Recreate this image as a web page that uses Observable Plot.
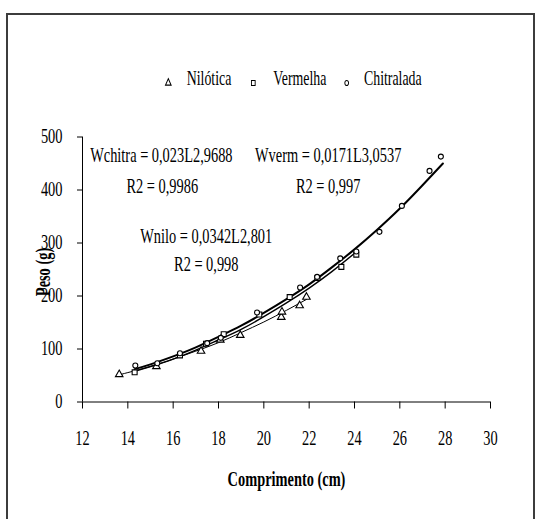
<!DOCTYPE html>
<html><head><meta charset="utf-8">
<script src="https://cdn.jsdelivr.net/npm/d3@7"></script>
<script src="https://cdn.jsdelivr.net/npm/@observablehq/plot@0.6"></script>
<style>
body{margin:0;background:#fff;}
#frame{position:absolute;left:6px;top:13px;width:525px;height:520px;border:2px solid #3c3c3c;border-bottom:none;}
#chart{position:absolute;left:0;top:0;}
#legend{position:absolute;left:0;top:0;}
svg text{font-family:"Liberation Serif","Times New Roman",serif !important;}
</style></head><body>
<div id="frame"></div>
<div id="chart"></div>
<svg id="legend" width="535" height="100"></svg>
<script>
// Observed points
const nilX = [13.62, 15.26, 17.23, 18.08, 18.96, 20.77, 20.8, 21.58, 21.88];
const nilY = [52, 67, 96, 117, 126, 160, 170, 182, 198];
const verX = [14.3, 16.3, 17.45, 18.23, 19.8, 21.14, 22.37, 23.42, 24.08];
const verY = [56, 88, 110, 128, 165, 198, 234, 255, 278];
const chiX = [14.33, 15.3, 16.3, 17.5, 18.1, 19.7, 21.6, 22.35, 23.37, 24.08, 25.1, 26.09, 27.31, 27.81];
const chiY = [69, 73, 92, 111, 121, 169, 216, 236, 271, 284, 321, 370, 436, 463];
// Trend curves
const nilLX = [13.6, 14, 15, 16, 17, 18, 19, 20, 21, 21.9];
const nilLY = [51, 55.5, 67, 81, 96, 112, 131, 151, 173, 194];
const verLX = [14.3, 15, 16, 17, 18, 19, 20, 21, 22, 23, 24.1];
const verLY = [58, 67, 81, 98, 117, 137, 161, 187, 215, 246, 284];
const chiLX = [14.3, 15, 16, 17, 18, 19, 20, 21, 22, 23, 24, 25, 26, 27, 27.9];
const chiLY = [62, 71, 86, 103, 123, 144, 168, 194, 222, 254, 288, 325, 365, 409, 450];
// Ticks & labels
const xTicks = [12, 14, 16, 18, 20, 22, 24, 26, 28, 30];
const yTicks = [0, 100, 200, 300, 400, 500];
const eqText = ["Wchitra = 0,023L2,9688", "R2 = 0,9986", "Wverm = 0,0171L3,0537", "R2 = 0,997", "Wnilo = 0,0342L2,801", "R2 = 0,998"];
const eqX = [15.48, 15.52, 22.84, 22.84, 17.46, 17.46];
const eqY = [464.5, 406, 464.5, 406, 311.7, 260];
const legendLabels = ["Nilótica", "Vermelha", "Chitralada"];
const legendSymbols = ["triangle", "square", "circle"];
const xTitle = "Comprimento (cm)";
const yTitle = "Peso (g)";

const dotOpts = {fill: "white", stroke: "black", strokeWidth: 1.1, ariaLabel: "pts"};

const chart = Plot.plot({
  width: 535, height: 519,
  marginLeft: 82, marginRight: 45, marginTop: 136.5, marginBottom: 117.5,
  style: {fontFamily: "'Liberation Serif', 'Times New Roman', serif", fontSize: "20px", color: "#000", background: "transparent", overflow: "visible"},
  x: {domain: [12, 30], label: null},
  y: {domain: [0, 500], label: null},
  marks: [
    Plot.axisX({ticks: xTicks, tickSize: 7, tickPadding: 22, label: null, fill: "black"}),
    Plot.axisY({ticks: yTicks, tickSize: 5, tickPadding: 15, label: null, fill: "black"}),
    Plot.ruleY([0], {stroke: "black"}),
    Plot.ruleX([12], {stroke: "black"}),
    Plot.line(nilLX, {x: nilLX, y: nilLY, stroke: "black", strokeWidth: 1, curve: "natural"}),
    Plot.line(verLX, {x: verLX, y: verLY, stroke: "black", strokeWidth: 1.4, curve: "natural"}),
    Plot.line(chiLX, {x: chiLX, y: chiLY, stroke: "black", strokeWidth: 2, curve: "natural"}),
    Plot.dot(nilX, {x: nilX, y: nilY, symbol: "triangle", r: 2.8, ...dotOpts}),
    Plot.dot(verX, {x: verX, y: verY, symbol: "square", r: 2.8, ...dotOpts}),
    Plot.dot(chiX, {x: chiX, y: chiY, symbol: "circle", r: 2.5, ...dotOpts}),
    Plot.text(eqText, {x: eqX, y: eqY, text: eqText, fill: "black", ariaLabel: "eq"}),
    Plot.text([xTitle], {frameAnchor: "bottom", textAnchor: "middle", lineAnchor: "middle", dy: 78, fontWeight: "bold", fill: "black", ariaLabel: "xtitle"}),
    Plot.text([yTitle], {frameAnchor: "left", textAnchor: "middle", lineAnchor: "middle", rotate: -90, dx: -38.5, dy: 2.5, fontWeight: "bold", fill: "black", ariaLabel: "ytitle"})
  ]
});
document.getElementById("chart").appendChild(chart);

function isNum(v) { return v != null && v !== "" && isFinite(+v); }
function squeeze(root, sel, sx, sy) {
  root.querySelectorAll(sel).forEach(el => {
    if (el.classList.contains("sq")) return;
    el.classList.add("sq");
    let tx = 0, ty = 0;
    const ax = el.tagName === "circle" ? "cx" : "x";
    const ay = el.tagName === "circle" ? "cy" : "y";
    const vx = el.getAttribute(ax), vy = el.getAttribute(ay);
    if (isNum(vx)) { tx = +vx; el.setAttribute(ax, 0); }
    if (isNum(vy)) { ty = +vy; el.setAttribute(ay, 0); }
    const tr = el.getAttribute("transform") || "";
    el.setAttribute("transform", `${tr} translate(${tx},${ty}) scale(${sx},${sy})`);
  });
}
squeeze(chart, 'g[aria-label="eq"] text', 0.70, 1);
squeeze(chart, 'g[aria-label="xtitle"] text', 0.72, 1);
squeeze(chart, 'g[aria-label="ytitle"] text', 1, 0.72);
squeeze(chart, 'g[aria-label="pts"] path, g[aria-label="pts"] circle', 0.75, 1);
squeeze(chart, 'text', 0.72, 1);

// Legend
const lg = d3.select("#legend");
const symX = [168.3, 253.3, 346.7];
const txtX = [186.7, 273.3, 364];
const symMap = {triangle: d3.symbolTriangle, square: d3.symbolSquare, circle: d3.symbolCircle};
const symR = {triangle: 2.8, square: 2.8, circle: 2.5};
legendLabels.forEach((lab, i) => {
  const s = legendSymbols[i];
  lg.append("path")
    .attr("d", d3.symbol(symMap[s], Math.PI * symR[s] * symR[s])())
    .attr("transform", `translate(${symX[i]},83) scale(0.75,1)`)
    .attr("fill", "white").attr("stroke", "black").attr("stroke-width", 1.2);
  lg.append("text").text(lab)
    .attr("transform", `translate(${txtX[i]},85) scale(0.63,1)`)
    .attr("font-size", 22).attr("fill", "black");
});
</script>
</body></html>
